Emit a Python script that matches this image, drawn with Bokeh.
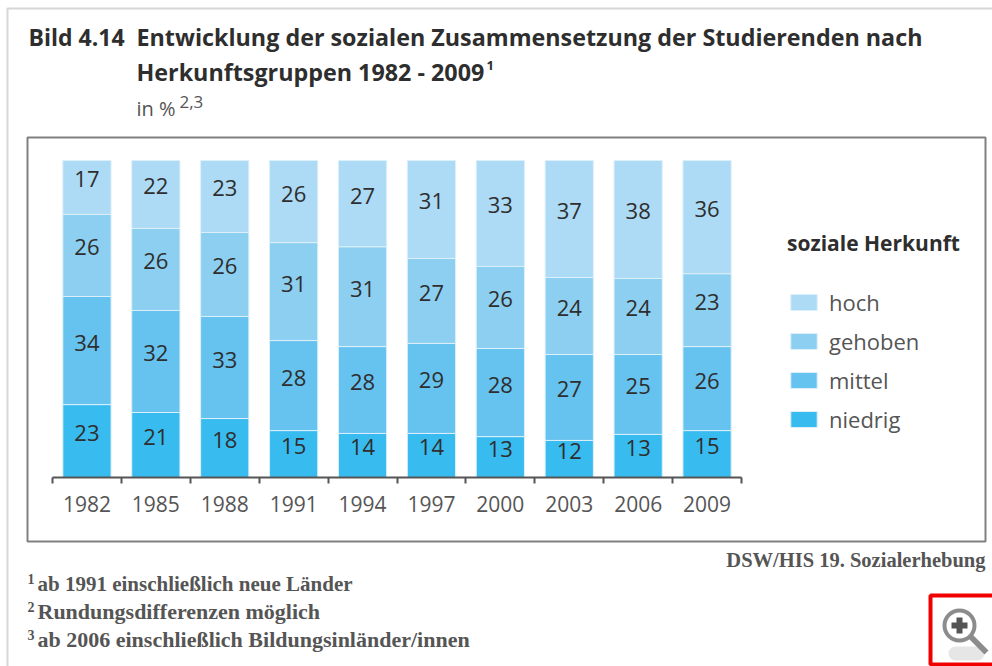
from bokeh.plotting import figure
from bokeh.models import (ColumnDataSource, Label, BoxAnnotation, PolyAnnotation, FixedTicker,
                          LinearAxis, Range1d, Legend, LegendItem)
from bokeh.core.properties import value
from bokeh.embed import file_html
from bokeh.resources import INLINE

years = ["1982", "1985", "1988", "1991", "1994", "1997", "2000", "2003", "2006", "2009"]
series = ["niedrig", "mittel", "gehoben", "hoch"]
colors = ["#38BBEE", "#66C2EE", "#8CCFF0", "#ADDAF5"]

# printed values
niedrig = [23, 21, 18, 15, 14, 14, 13, 12, 13, 15]
mittel = [34, 32, 33, 28, 28, 29, 28, 27, 25, 26]
gehoben = [26, 26, 26, 31, 31, 27, 26, 24, 24, 23]
hoch = [17, 22, 23, 26, 27, 31, 33, 37, 38, 36]

# bar heights (all stacks end at the same top)
niedrig_h = [23.0, 20.5, 18.6, 14.8, 13.9, 13.9, 12.9, 11.7, 13.6, 14.8]
mittel_h = [34.1, 32.2, 32.2, 28.4, 27.4, 28.4, 27.8, 27.1, 25.2, 26.5]
gehoben_h = [25.9, 25.9, 26.5, 30.9, 31.5, 26.8, 25.9, 24.3, 24.0, 23.0]
hoch_h = [17.0, 21.4, 22.7, 25.9, 27.2, 30.9, 33.4, 36.9, 37.2, 35.7]

SANS = "Open Sans"
SERIF = "Liberation Serif"
DARK = "#2E2E2E"
GREY = "#555555"

W, H = 992, 666
FL, FR, FT, FB = 52, 741, 160, 477
UX = (FR - FL) / 10
UY = (FB - FT) / 100

p = figure(width=W, height=H, output_backend="svg", toolbar_location=None,
           x_range=Range1d(-FL / UX, (W - FL) / UX), y_range=Range1d(-(H - FB) / UY, FB / UY),
           x_axis_location=None, y_axis_location=None,
           min_border_left=0, min_border_right=0, min_border_top=0, min_border_bottom=0,
           outline_line_color=None, background_fill_color="white", border_fill_color="white")
p.grid.visible = False

pos = [i + 0.5 for i in range(len(years))]
src = dict(x=pos, niedrig=niedrig_h, mittel=mittel_h, gehoben=gehoben_h, hoch=hoch_h)
rs = p.vbar_stack(series, x="x", width=0.7, color=colors, line_color="#DDF0FA", line_width=1,
                  source=ColumnDataSource(src))

axis = LinearAxis(ticker=FixedTicker(ticks=pos, minor_ticks=list(range(11))),
                  major_label_overrides={x: y for x, y in zip(pos, years)},
                  fixed_location=0, bounds=(0, 10))
axis.major_tick_line_color = None
axis.minor_tick_line_color = GREY
axis.minor_tick_line_width = 2
axis.minor_tick_out = 6
axis.minor_tick_in = 0
axis.axis_line_color = GREY
axis.axis_line_width = 2
axis.major_label_text_font = SANS
axis.major_label_text_font_size = "21px"
axis.major_label_text_color = GREY
axis.major_label_standoff = 12
p.add_layout(axis, "below")

printed = [niedrig, mittel, gehoben, hoch]
heights = [niedrig_h, mittel_h, gehoben_h, hoch_h]
base = [0.0] * len(years)
for vals, hs in zip(printed, heights):
    mids = [b + h / 2 for b, h in zip(base, hs)]
    base = [b + h for b, h in zip(base, hs)]
    p.text(x=pos, y=mids, text=[str(v) for v in vals], text_font=value(SANS), text_font_size="22px",
           text_color=DARK, text_align="center", text_baseline="middle", y_offset=-8)

legend = Legend(items=[LegendItem(label=s, renderers=[r]) for s, r in reversed(list(zip(series, rs)))],
                location=(787, H - 434), title="soziale Herkunft", orientation="vertical",
                glyph_width=33, glyph_height=20, label_height=20, spacing=9, padding=0, margin=0,
                border_line_color=None, background_fill_alpha=0,
                label_text_font=SANS, label_text_font_size="22px", label_text_color=GREY,
                title_text_font=SANS, title_text_font_style="bold", title_text_font_size="21px",
                title_text_color=DARK, title_standoff=30, label_standoff=9)
p.add_layout(legend, "center")

def sx(x): return x
def sy(y): return H - y

def lab(x, y, t, size, font=SANS, style="normal", color=DARK, align="left"):
    p.add_layout(Label(x=sx(x), y=sy(y), x_units="screen", y_units="screen", text=t,
                       text_font=font, text_font_size=f"{size}px", text_font_style=style,
                       text_color=color, text_align=align, text_baseline="middle"))

def box(l, t, r, b, **kw):
    kw.setdefault("line_alpha", 1)
    kw.setdefault("fill_alpha", 1)
    p.add_layout(BoxAnnotation(left=sx(l), right=sx(r), top=sy(t), bottom=sy(b),
                               left_units="screen", right_units="screen",
                               top_units="screen", bottom_units="screen", **kw))

# page frame and chart frame
box(7, 8, 1000, 670, fill_color=None, line_color="#D6D6D6", line_width=2)
box(27, 137, 985, 541, fill_color=None, line_color="#808080", line_width=2)

lab(28, 36, "Bild 4.14", 23, style="bold")
lab(136, 36, "Entwicklung der sozialen Zusammensetzung der Studierenden nach", 23.3, style="bold")
lab(136, 71, "Herkunftsgruppen 1982 - 2009", 23.3, style="bold")
lab(486, 65, "1", 13, style="bold")
lab(136, 108, "in %", 20, color=GREY)
lab(179, 101, "2,3", 17, color=GREY)
lab(985, 559, "DSW/HIS 19. Sozialerhebung", 20.5, font=SERIF, style="bold", color=GREY, align="right")
for y, n, size, t in [(583, "1", 21, "ab 1991 einschließlich neue Länder"),
                      (611, "2", 22, "Rundungsdifferenzen möglich"),
                      (639, "3", 22, "ab 2006 einschließlich Bildungsinländer/innen")]:
    lab(27, y - 5, n, 14, font=SERIF, style="bold", color=GREY)
    lab(37, y, t, size, font=SERIF, style="bold", color=GREY)

# zoom icon
box(930, 595, 1000, 664, fill_color=None, line_color="#F00000", line_width=4)
box(948, 646, 984, 660, fill_color="#E6E6E6", line_color=None, border_radius=7)
box(944, 610, 974, 640, fill_color="#FFFFFF", line_color="#8C8C8C", line_width=4, border_radius=15)
box(951, 622, 967, 628, fill_color="#555555", line_color=None)
box(956, 617, 962, 633, fill_color="#555555", line_color=None)
hx = [967, 971, 988, 984]
hy = [637, 633, 650, 654]
p.add_layout(PolyAnnotation(xs=[sx(v) for v in hx], ys=[sy(v) for v in hy],
                            xs_units="screen", ys_units="screen",
                            fill_color="#8C8C8C", fill_alpha=1, line_color=None))

open("out.html", "w").write(file_html(p, INLINE))
